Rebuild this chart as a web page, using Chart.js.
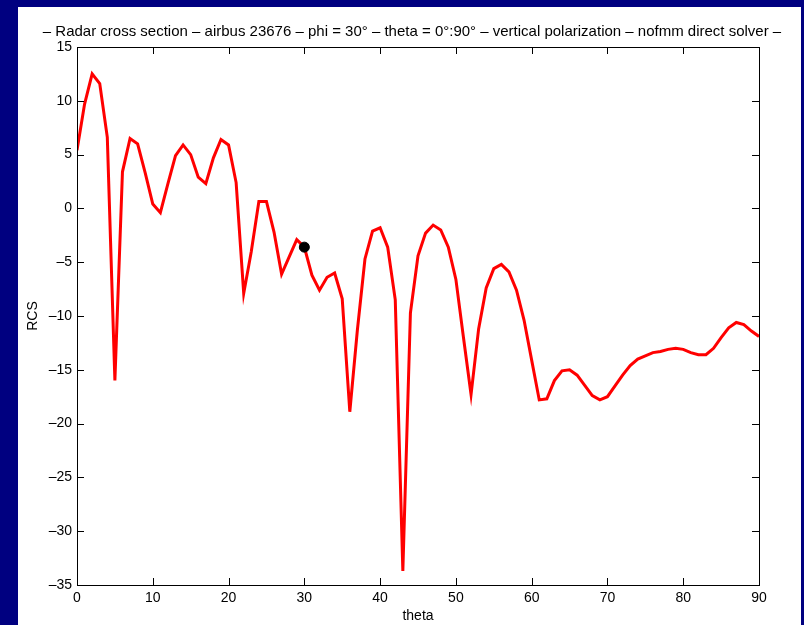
<!DOCTYPE html>
<html>
<head>
<meta charset="utf-8">
<script src="https://cdn.jsdelivr.net/npm/chart.js@4/dist/chart.umd.min.js"></script>
<style>
  html, body { margin: 0; padding: 0; background: #000080; }
  body { width: 804px; height: 625px; position: relative; overflow: hidden; }
  #wrap { position: absolute; left: 18px; top: 7px; width: 783px; height: 618px; background: #fff; }
</style>
</head>
<body>
<div id="wrap"><canvas id="rcs" width="783" height="618"></canvas></div>
<script>
const titleText = "\u2013 Radar cross section \u2013 airbus 23676 \u2013 phi = 30\u00b0 \u2013 theta = 0\u00b0:90\u00b0 \u2013 vertical polarization \u2013 nofmm direct solver \u2013";

const theta = [
  0, 1, 2, 3, 4, 5, 6, 7, 8, 9, 10, 11, 12, 13, 14, 15, 16, 17, 18, 19,
  20, 21, 22, 23, 24, 25, 26, 27, 28, 29, 30, 31, 32, 33, 34, 35, 36, 37, 38, 39,
  40, 41, 42, 43, 44, 45, 46, 47, 48, 49, 50, 51, 52, 53, 54, 55, 56, 57, 58, 59,
  60, 61, 62, 63, 64, 65, 66, 67, 68, 69, 70, 71, 72, 73, 74, 75, 76, 77, 78, 79,
  80, 81, 82, 83, 84, 85, 86, 87, 88, 89, 90
];

const rcs = [
  5.4, 9.7, 12.5, 11.6, 6.6, -16.0, 3.4, 6.5, 6.0, 3.3,
  0.4, -0.4, 2.3, 4.9, 5.9, 5.0, 2.9, 2.3, 4.7, 6.4,
  5.9, 2.4, -7.9, -4.0, 0.65, 0.65, -2.2, -6.1, -4.5, -2.9,
  -3.6, -6.2, -7.6, -6.4, -6.0, -8.4, -18.9, -11.3, -4.7, -2.1,
  -1.8, -3.6, -8.5, -33.7, -9.7, -4.4, -2.3, -1.55, -2.0, -3.6,
  -6.6, -12.0, -17.3, -11.2, -7.4, -5.6, -5.2, -5.9, -7.6, -10.4,
  -14.1, -17.8, -17.7, -16.0, -15.1, -15.0, -15.5, -16.45, -17.4, -17.8,
  -17.5, -16.5, -15.5, -14.6, -14.0, -13.7, -13.4, -13.3, -13.1, -13.0,
  -13.1, -13.4, -13.6, -13.6, -13.0, -12.0, -11.1, -10.6, -10.8, -11.4,
  -11.9
];

// highlighted sample
const markTheta = [30];
const markRcs = [-3.6];

const xMin = 0, xMax = 90, xStep = 10;
const yMin = -35, yMax = 15, yStep = 5;

const fam = "'Liberation Sans', Arial, Helvetica, sans-serif";
const font = { family: fam, size: 14, weight: "normal" };

// matlab prints negatives with a long dash
const dashMinus = v => (v < 0 ? "\u2013" + Math.abs(v) : String(v));

// title is wider than the axes box, so draw it without the built-in squeeze
const wideTitle = {
  id: "wideTitle",
  afterDraw(chart) {
    const { ctx, chartArea: a } = chart;
    ctx.save();
    ctx.font = "15px " + fam;
    ctx.fillStyle = "#000";
    ctx.textAlign = "center";
    ctx.textBaseline = "middle";
    ctx.fillText(titleText, (a.left + a.right) / 2 - 6, 24.5);
    ctx.restore();
  }
};

// matlab-style box with inward ticks on all four sides
const boxTicks = {
  id: "boxTicks",
  afterDatasetsDraw(chart) {
    const { ctx, chartArea: a, scales: { x, y } } = chart;
    const len = 7;
    ctx.save();
    ctx.strokeStyle = "#000";
    ctx.lineWidth = 1;
    ctx.beginPath();
    x.ticks.forEach(t => {
      const px = Math.round(x.getPixelForValue(t.value)) + 0.5;
      ctx.moveTo(px, a.bottom); ctx.lineTo(px, a.bottom - len);
      ctx.moveTo(px, a.top); ctx.lineTo(px, a.top + len);
    });
    y.ticks.forEach(t => {
      const py = Math.round(y.getPixelForValue(t.value)) + 0.5;
      ctx.moveTo(a.left, py); ctx.lineTo(a.left + len, py);
      ctx.moveTo(a.right, py); ctx.lineTo(a.right - len, py);
    });
    ctx.stroke();
    ctx.strokeRect(Math.round(a.left) + 0.5, Math.round(a.top) + 0.5,
                   Math.round(a.right - a.left), Math.round(a.bottom - a.top));
    ctx.restore();
  }
};

new Chart(document.getElementById("rcs"), {
  type: "line",
  data: {
    datasets: [
      {
        label: "RCS",
        data: theta.map((t, i) => ({ x: t, y: rcs[i] })),
        borderColor: "#ff0000",
        borderWidth: 3,
        pointRadius: 0,
        tension: 0,
        order: 2
      },
      {
        label: "mark",
        data: markTheta.map((t, i) => ({ x: t, y: markRcs[i] })),
        showLine: false,
        pointRadius: 5,
        pointBackgroundColor: "#000",
        pointBorderColor: "#000",
        order: 1
      }
    ]
  },
  options: {
    responsive: false,
    animation: false,
    layout: { padding: { left: 0, right: 42, top: 40, bottom: 0 } },
    plugins: {
      legend: { display: false },
      tooltip: { enabled: false },
      title: { display: false }
    },
    scales: {
      x: {
        type: "linear",
        min: xMin,
        max: xMax,
        border: { display: false },
        grid: { drawOnChartArea: false, drawTicks: false },
        ticks: { stepSize: xStep, color: "#000", font: font, padding: 5, maxRotation: 0 },
        title: { display: true, text: "theta", color: "#000", font: font, padding: { top: 0, bottom: 0 } },
        afterFit(s) { s.height = 40; }
      },
      y: {
        min: yMin,
        max: yMax,
        border: { display: false },
        grid: { drawOnChartArea: false, drawTicks: false },
        ticks: { stepSize: yStep, color: "#000", font: font, padding: 5, callback: dashMinus },
        title: { display: true, text: "RCS", color: "#000", font: font, padding: { top: 7, bottom: 0 } },
        afterFit(s) { s.width = 59; }
      }
    }
  },
  plugins: [boxTicks, wideTitle]
});
</script>
</body>
</html>
